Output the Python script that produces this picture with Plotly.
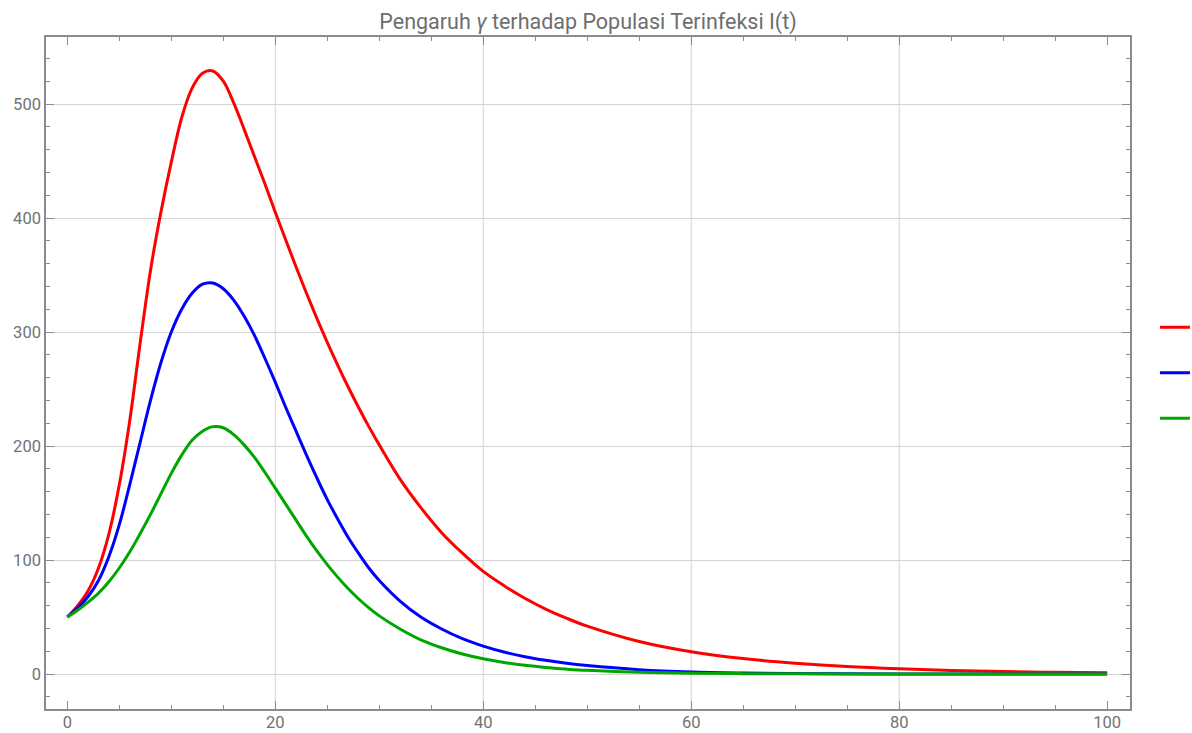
import plotly.graph_objects as go

# ---- data ----
t_values = [0, 1, 2, 3, 4, 5, 6, 7, 8, 9, 10, 11, 12, 13, 14, 15, 16, 17, 18, 19, 20,
            21, 22, 23, 24, 25, 26, 27, 28, 29, 30,
            32, 34, 36, 38, 40, 42, 44, 46, 48, 50, 55, 60, 65, 70, 75, 80, 85, 90, 95, 100]

infected_red = [50, 60, 73, 93, 123, 166, 222, 290, 354, 405, 449, 488, 514, 527, 529, 520, 501, 478, 454, 430, 405,
                381, 357, 334, 312, 291, 271, 252, 234, 217, 201,
                171, 146, 124, 106, 90, 77.5, 66.5, 57, 49, 42, 28.5, 19.5, 13.5, 9.5, 6.5, 4.5, 3.1, 2.1, 1.5, 1]

infected_blue = [50, 58, 68, 82, 103, 131, 166, 203, 240, 273, 300, 320, 334, 342, 343, 338, 328, 314, 297, 277, 256,
                 234, 213, 192, 172, 153, 136, 120, 106, 93, 82,
                 64, 50, 39.5, 31, 24.5, 19.3, 15.2, 12, 9.4, 7.4, 3.8, 1.8, 0.9, 0.45, 0.22, 0.11, 0.06, 0.03, 0.02, 0.01]

infected_green = [50, 56, 63, 71, 81, 93, 107, 123, 140, 158, 176, 192, 205, 213, 217, 216, 210, 201, 190, 177, 163,
                  149, 135, 121, 108, 96, 85, 75, 66, 58, 51,
                  39.5, 30, 23, 17.5, 13.3, 10.1, 7.6, 5.7, 4.3, 3.2, 1.5, 0.7, 0.33, 0.15, 0.07, 0.03, 0.02, 0.01, 0.01, 0.01]

series_names = ["γ₁", "γ₂", "γ₃"]
series_colors = ["#ff0000", "#0000ff", "#00a600"]
series_values = [infected_red, infected_blue, infected_green]

x_grid_values = [20, 40, 60, 80]
x_tick_values = [0, 20, 40, 60, 80, 100]
y_tick_values = [0, 100, 200, 300, 400, 500]

title_text = "Pengaruh <i>γ</i> terhadap Populasi Terinfeksi I(t)"

# ---- figure ----
fig = go.Figure()
for i, (name, color, vals) in enumerate(zip(series_names, series_colors, series_values)):
    fig.add_trace(go.Scatter(
        x=t_values, y=vals, mode="lines",
        name="",  # legend labels lie outside the visible picture in the reference
        hovertemplate=name + ": t=%{x}, I=%{y}<extra></extra>",
        legendgroup=f"g{i}",
        line=dict(color=color, width=3, shape="spline", smoothing=1.0),
    ))

frame_color = "#8c8c8c"
grid_color = "#d4d4d4"
font_family = "Roboto, 'Open Sans', sans-serif"
tick_font = dict(family=font_family, size=16.5, color="#727272")

for gx in x_grid_values:
    fig.add_shape(type="line", xref="x", yref="paper", x0=gx, x1=gx, y0=0, y1=1,
                  line=dict(color=grid_color, width=1), layer="below")

fig.update_xaxes(
    range=[-2.05, 102.2], tickvals=x_tick_values, showgrid=False, zeroline=False,
    showline=True, linecolor=frame_color, linewidth=1.5, mirror="allticks",
    ticks="inside", ticklen=8, tickwidth=1.2, tickcolor=frame_color,
    minor=dict(dtick=5, tick0=0, ticks="inside", ticklen=4, tickwidth=1, tickcolor=frame_color, showgrid=False),
    tickfont=tick_font, ticklabelstandoff=-3,
)
fig.update_yaxes(
    range=[-30.7, 558.8], tickvals=y_tick_values, showgrid=True, gridcolor=grid_color, gridwidth=1,
    zeroline=False,
    showline=True, linecolor=frame_color, linewidth=1.5, mirror="allticks",
    ticks="inside", ticklen=8, tickwidth=1.2, tickcolor=frame_color,
    minor=dict(dtick=20, tick0=0, ticks="inside", ticklen=4, tickwidth=1, tickcolor=frame_color, showgrid=False),
    tickfont=tick_font,
)

fig.update_layout(
    width=1192, height=733,
    margin=dict(l=46, r=62, t=37, b=24, autoexpand=False),
    paper_bgcolor="white", plot_bgcolor="white",
    title=dict(text=title_text, x=0.5, xref="paper", xanchor="center",
               y=1 - 21 / 733, yref="container", yanchor="middle",
               font=dict(family=font_family, size=21.5, color="#6e6e6e")),
    showlegend=True,
    legend=dict(x=1.023, xanchor="left", y=0.50, yanchor="middle", xref="paper", yref="paper",
                tracegroupgap=23, font=dict(size=15, color="#444"),
                bgcolor="rgba(0,0,0,0)", itemwidth=30),
)

fig.write_html(
    "out.html",
    config={"displayModeBar": False},
    post_script="document.body.style.margin='0';document.body.style.overflow='hidden';",
)
